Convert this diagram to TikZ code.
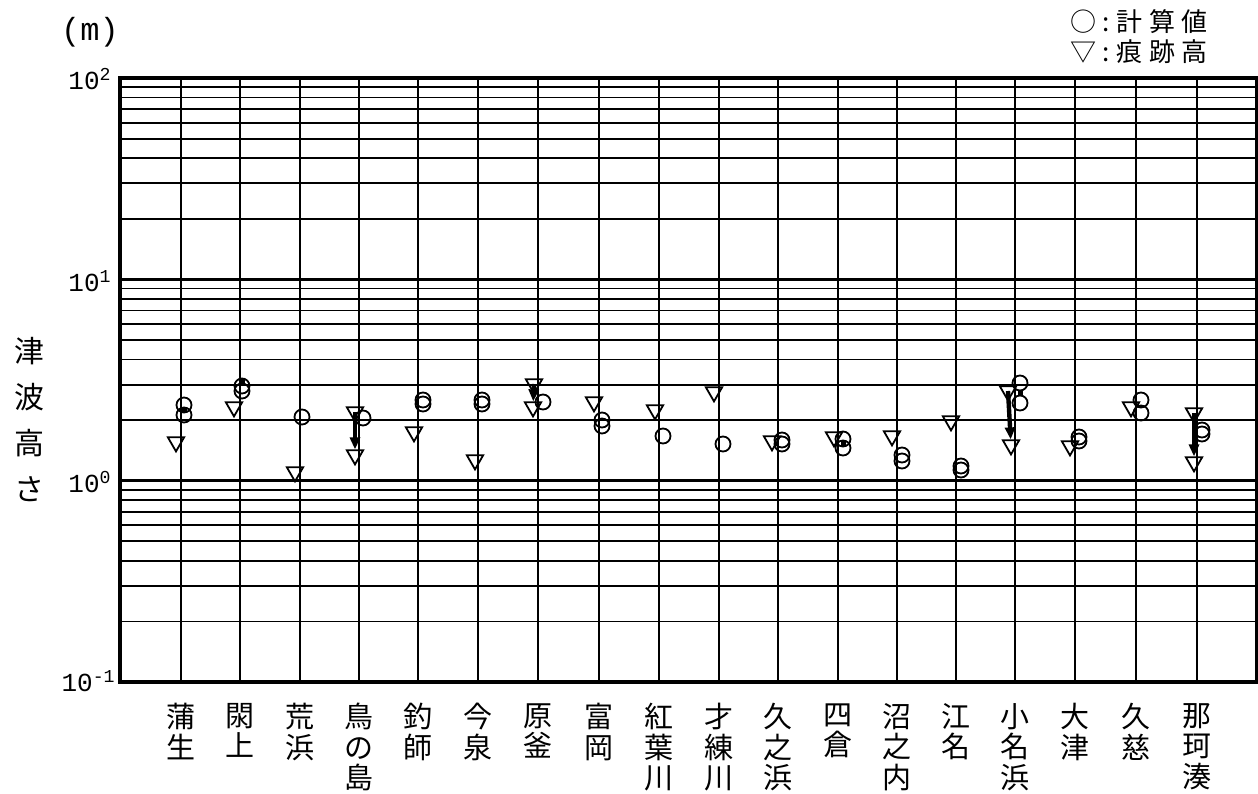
\documentclass[tikz,border=0pt]{standalone}
\usepackage{fontspec}
\usepackage{tikz}
\usetikzlibrary{shapes.geometric,arrows.meta}
\newfontfamily\jpfont{Noto Sans CJK JP}
\newfontfamily\legendfont[LetterSpace=25]{Noto Sans CJK JP}
\newfontfamily\tickfont{Liberation Mono}

\begin{document}
\begin{tikzpicture}
[ x=0.5pt, y=-0.5pt
, gridline/.style={line width=0.9pt}
, decline/.style={line width=1.2pt}
, frameline/.style={line width=1.6pt}
, calcmark/.style={circle, draw, line width=0.9pt, minimum size=7.5pt, inner sep=0pt}
, tracemark/.style={regular polygon, regular polygon sides=3, shape border rotate=180, draw, line width=0.9pt, minimum size=9.4pt, inner sep=0pt}
, tracerange/.style={line width=2.2pt, -{Triangle[length=6pt, width=5pt]}}
, calcpair/.style={line width=2.5pt}
, station/.style={font=\jpfont\fontsize{14.5}{15.2}\selectfont, align=center, anchor=north, inner sep=0pt}
, tick/.style={font=\tickfont\fontsize{13}{15}\selectfont, anchor=base east, inner sep=0pt}
]
\useasboundingbox (0,0) rectangle (1258,793);
% Grid:
\foreach \d in {0,1,2}
  \foreach \m in {2,...,9}
    \draw [gridline] (120,{78+201.33*(\d+1-log10(\m))}) -- (1257,{78+201.33*(\d+1-log10(\m))});
\foreach \d in {1,2}
  \draw [decline] (120,{78+201.33*\d}) -- (1257,{78+201.33*\d});
\foreach \x in {181,240,300,359,418,478,538,599,659,719,778,838,897,956,1015,1075,1136,1197}
  \draw [gridline] (\x,78) -- (\x,682);
\draw [frameline] (120,78) rectangle (1257,682);
% Axis texts:
\node (unit) [font=\tickfont\fontsize{16}{18}\selectfont, inner sep=0pt] at (90,32) {(m)};
\node (e2) [tick] at (112,89) {10\textsuperscript{2}};
\node (e1) [tick] at (112,291) {10\textsuperscript{1}};
\node (e0) [tick] at (112,492) {10\textsuperscript{0}};
\node (em1) [tick] at (116,691) {10\textsuperscript{-1}};
\node (ylabel) [font=\jpfont\fontsize{15}{23}\selectfont, align=center, inner sep=0pt] at (29,420) {津\\波\\高\\さ};
% Legend:
\node (leg1) [font=\legendfont\fontsize{13}{15}\selectfont, anchor=west, inner sep=0pt] at (1070,22) {○:計算値};
\node (leg2) [font=\legendfont\fontsize{13}{15}\selectfont, anchor=west, inner sep=0pt] at (1070,52) {▽:痕跡高};
% Stations:
\node (lab1) [station] at (181,703) {蒲\\生};
\node (lab2) [station] at (240,703) {閖\\上};
\node (lab3) [station] at (300,703) {荒\\浜};
\node (lab4) [station] at (359,703) {鳥\\の\\島};
\node (lab5) [station] at (418,703) {釣\\師};
\node (lab6) [station] at (478,703) {今\\泉};
\node (lab7) [station] at (538,703) {原\\釜};
\node (lab8) [station] at (599,703) {富\\岡};
\node (lab9) [station] at (659,703) {紅\\葉\\川};
\node (lab10) [station] at (719,703) {才\\練\\川};
\node (lab11) [station] at (778,703) {久\\之\\浜};
\node (lab12) [station] at (838,703) {四\\倉};
\node (lab13) [station] at (897,703) {沼\\之\\内};
\node (lab14) [station] at (956,703) {江\\名};
\node (lab15) [station] at (1015,703) {小\\名\\浜};
\node (lab16) [station] at (1075,703) {大\\津};
\node (lab17) [station] at (1136,703) {久\\慈};
\node (lab18) [station] at (1197,703) {那\\珂\\湊};
% Computed values:
\node (c1a) [calcmark] at (184,405) {};
\node (c1b) [calcmark] at (184,415) {};
\node (c2a) [calcmark] at (242,386) {};
\node (c2b) [calcmark] at (242,391) {};
\node (c3) [calcmark] at (302,417) {};
\node (c4) [calcmark] at (363,418) {};
\node (c5a) [calcmark] at (423,400) {};
\node (c5b) [calcmark] at (423,404) {};
\node (c6a) [calcmark] at (482,400) {};
\node (c6b) [calcmark] at (482,404) {};
\node (c7) [calcmark] at (543,402) {};
\node (c8a) [calcmark] at (602,420) {};
\node (c8b) [calcmark] at (602,426) {};
\node (c9) [calcmark] at (663,436) {};
\node (c10) [calcmark] at (723,444) {};
\node (c11a) [calcmark] at (782,440) {};
\node (c11b) [calcmark] at (782,444) {};
\node (c12a) [calcmark] at (843,439) {};
\node (c12b) [calcmark] at (843,448) {};
\node (c13a) [calcmark] at (902,455) {};
\node (c13b) [calcmark] at (902,461) {};
\node (c14a) [calcmark] at (961,466) {};
\node (c14b) [calcmark] at (961,470) {};
\node (c15a) [calcmark] at (1020,383) {};
\node (c15b) [calcmark] at (1020,403) {};
\node (c16a) [calcmark] at (1079,437) {};
\node (c16b) [calcmark] at (1079,441) {};
\node (c17a) [calcmark] at (1141,400) {};
\node (c17b) [calcmark] at (1141,413) {};
\node (c18a) [calcmark] at (1202,430) {};
\node (c18b) [calcmark] at (1202,434) {};
\draw [calcpair] (c1a) -- (c1b);
\draw [calcpair] (c2a) -- (c2b);
\draw [calcpair] (c12a) -- (c12b);
\draw [calcpair] (c15a) -- (c15b);
\draw [calcpair] (c17a) -- (c17b);
% Trace heights:
\node (t1) [tracemark] at (176,442) {};
\node (t2) [tracemark] at (234,407) {};
\node (t3) [tracemark] at (295,472) {};
\node (t4a) [tracemark] at (355,412) {};
\node (t4b) [tracemark] at (355,455) {};
\node (t5) [tracemark] at (414,432) {};
\node (t6) [tracemark] at (475,460) {};
\node (t7a) [tracemark] at (534,384) {};
\node (t7b) [tracemark] at (533,407) {};
\node (t8) [tracemark] at (594,402) {};
\node (t9) [tracemark] at (655,410) {};
\node (t10) [tracemark] at (714,392) {};
\node (t11) [tracemark] at (772,441) {};
\node (t12) [tracemark] at (834,437) {};
\node (t13) [tracemark] at (892,436) {};
\node (t14) [tracemark] at (951,421) {};
\node (t15a) [tracemark] at (1008,391) {};
\node (t15b) [tracemark] at (1011,445) {};
\node (t16) [tracemark] at (1070,446) {};
\node (t17) [tracemark] at (1131,407) {};
\node (t18a) [tracemark] at (1194,413) {};
\node (t18b) [tracemark] at (1194,462) {};
\draw [tracerange] (t4a.center) -- (t4b);
\draw [tracerange] (t7a.center) -- (t7b);
\draw [tracerange] (t15a.center) -- (t15b);
\draw [tracerange] (t18a.center) -- (t18b);
\end{tikzpicture}
\end{document}
